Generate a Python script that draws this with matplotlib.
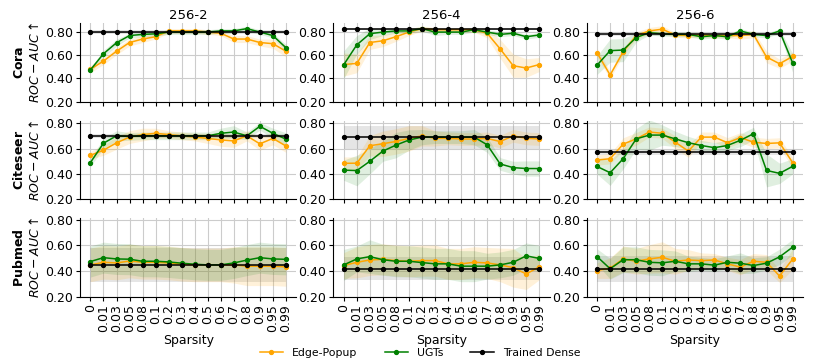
import numpy as np
import matplotlib
matplotlib.use("Agg")
import matplotlib.pyplot as plt

sparsity = ["0", "0.01", "0.03", "0.05", "0.08", "0.1", "0.2", "0.3", "0.4",
            "0.5", "0.6", "0.7", "0.8", "0.9", "0.95", "0.99"]
datasets = ["Cora", "Citeseer", "Pubmed"]
configs = ["256-2", "256-4", "256-6"]

# Edge-Popup means / stds  [dataset][config]
ep_mean = [
    [[0.48, 0.55, 0.635, 0.71, 0.74, 0.76, 0.81, 0.81, 0.81, 0.80, 0.79, 0.74, 0.74, 0.71, 0.70, 0.635],
     [0.52, 0.53, 0.71, 0.725, 0.76, 0.80, 0.83, 0.82, 0.82, 0.82, 0.82, 0.79, 0.655, 0.51, 0.49, 0.52],
     [0.62, 0.43, 0.63, 0.77, 0.81, 0.825, 0.775, 0.77, 0.775, 0.77, 0.77, 0.77, 0.78, 0.585, 0.527, 0.59]],
    [[0.547, 0.587, 0.645, 0.69, 0.71, 0.72, 0.71, 0.70, 0.69, 0.68, 0.668, 0.66, 0.70, 0.637, 0.68, 0.62],
     [0.484, 0.485, 0.622, 0.638, 0.656, 0.68, 0.70, 0.68, 0.68, 0.675, 0.675, 0.68, 0.655, 0.70, 0.68, 0.675],
     [0.51, 0.52, 0.635, 0.676, 0.73, 0.72, 0.65, 0.58, 0.69, 0.69, 0.646, 0.686, 0.65, 0.64, 0.645, 0.49]],
    [[0.45, 0.47, 0.465, 0.48, 0.47, 0.47, 0.465, 0.455, 0.45, 0.45, 0.45, 0.45, 0.44, 0.44, 0.44, 0.435],
     [0.445, 0.47, 0.488, 0.493, 0.483, 0.478, 0.483, 0.483, 0.458, 0.458, 0.47, 0.465, 0.45, 0.428, 0.38, 0.435],
     [0.406, 0.425, 0.496, 0.478, 0.496, 0.509, 0.478, 0.488, 0.483, 0.488, 0.458, 0.433, 0.478, 0.47, 0.364, 0.494]],
]
ep_std = [
    [[0.03, 0.03, 0.03, 0.03, 0.03, 0.02, 0.02, 0.02, 0.02, 0.02, 0.02, 0.03, 0.03, 0.03, 0.04, 0.05],
     [0.10, 0.08, 0.06, 0.05, 0.04, 0.03, 0.02, 0.02, 0.02, 0.02, 0.02, 0.04, 0.08, 0.10, 0.08, 0.06],
     [0.04, 0.03, 0.03, 0.03, 0.03, 0.03, 0.02, 0.02, 0.02, 0.02, 0.02, 0.03, 0.03, 0.05, 0.04, 0.04]],
    [[0.03, 0.04, 0.05, 0.05, 0.05, 0.04, 0.03, 0.03, 0.03, 0.04, 0.05, 0.05, 0.04, 0.05, 0.05, 0.05],
     [0.05, 0.05, 0.08, 0.10, 0.10, 0.10, 0.08, 0.06, 0.05, 0.05, 0.05, 0.05, 0.05, 0.05, 0.05, 0.05],
     [0.04, 0.04, 0.05, 0.05, 0.04, 0.04, 0.05, 0.05, 0.04, 0.04, 0.04, 0.04, 0.04, 0.04, 0.04, 0.04]],
    [[0.13, 0.13, 0.13, 0.13, 0.13, 0.13, 0.13, 0.13, 0.13, 0.13, 0.13, 0.14, 0.15, 0.15, 0.15, 0.15],
     [0.10, 0.12, 0.12, 0.12, 0.12, 0.12, 0.12, 0.12, 0.12, 0.12, 0.12, 0.12, 0.13, 0.15, 0.12, 0.10],
     [0.06, 0.08, 0.10, 0.10, 0.11, 0.12, 0.10, 0.08, 0.06, 0.05, 0.05, 0.06, 0.06, 0.06, 0.05, 0.08]],
]

# UGTs
ugt_mean = [
    [[0.474, 0.613, 0.708, 0.77, 0.78, 0.785, 0.80, 0.80, 0.80, 0.80, 0.81, 0.81, 0.83, 0.80, 0.77, 0.665],
     [0.519, 0.69, 0.786, 0.80, 0.81, 0.81, 0.83, 0.80, 0.80, 0.80, 0.82, 0.80, 0.78, 0.79, 0.76, 0.775],
     [0.515, 0.64, 0.645, 0.753, 0.795, 0.785, 0.78, 0.78, 0.76, 0.77, 0.76, 0.81, 0.78, 0.77, 0.81, 0.535]],
    [[0.49, 0.642, 0.70, 0.695, 0.70, 0.70, 0.70, 0.70, 0.70, 0.70, 0.72, 0.73, 0.70, 0.775, 0.72, 0.674],
     [0.43, 0.427, 0.50, 0.58, 0.627, 0.667, 0.69, 0.69, 0.69, 0.69, 0.69, 0.63, 0.479, 0.45, 0.443, 0.443],
     [0.459, 0.41, 0.52, 0.676, 0.706, 0.706, 0.676, 0.646, 0.624, 0.607, 0.624, 0.665, 0.717, 0.428, 0.405, 0.46]],
    [[0.476, 0.506, 0.496, 0.494, 0.478, 0.478, 0.473, 0.463, 0.455, 0.45, 0.45, 0.465, 0.487, 0.506, 0.496, 0.493],
     [0.45, 0.496, 0.514, 0.49, 0.478, 0.478, 0.468, 0.458, 0.458, 0.44, 0.44, 0.44, 0.45, 0.47, 0.52, 0.50],
     [0.514, 0.42, 0.49, 0.49, 0.47, 0.466, 0.478, 0.458, 0.458, 0.448, 0.47, 0.463, 0.445, 0.463, 0.512, 0.587]],
]
ugt_std = [
    [[0.02, 0.03, 0.03, 0.02, 0.02, 0.02, 0.02, 0.02, 0.02, 0.02, 0.02, 0.02, 0.02, 0.02, 0.02, 0.03],
     [0.12, 0.08, 0.05, 0.03, 0.02, 0.02, 0.02, 0.03, 0.02, 0.02, 0.02, 0.02, 0.02, 0.02, 0.02, 0.02],
     [0.08, 0.10, 0.10, 0.04, 0.02, 0.02, 0.02, 0.02, 0.02, 0.02, 0.02, 0.02, 0.02, 0.02, 0.02, 0.08]],
    [[0.03, 0.04, 0.04, 0.03, 0.03, 0.03, 0.03, 0.03, 0.03, 0.03, 0.04, 0.05, 0.03, 0.03, 0.04, 0.05],
     [0.08, 0.12, 0.10, 0.08, 0.10, 0.08, 0.06, 0.05, 0.05, 0.05, 0.06, 0.06, 0.05, 0.05, 0.06, 0.06],
     [0.06, 0.10, 0.08, 0.08, 0.12, 0.08, 0.06, 0.05, 0.04, 0.04, 0.04, 0.05, 0.05, 0.13, 0.08, 0.06]],
    [[0.12, 0.12, 0.12, 0.12, 0.12, 0.12, 0.12, 0.12, 0.12, 0.12, 0.12, 0.12, 0.12, 0.12, 0.12, 0.12],
     [0.12, 0.10, 0.13, 0.12, 0.12, 0.12, 0.12, 0.12, 0.12, 0.12, 0.12, 0.10, 0.10, 0.10, 0.10, 0.10],
     [0.06, 0.08, 0.10, 0.10, 0.10, 0.10, 0.08, 0.06, 0.05, 0.05, 0.05, 0.08, 0.06, 0.05, 0.06, 0.06]],
]

# Trained Dense (constant over sparsity)
dense_mean = [[0.80, 0.825, 0.78], [0.70, 0.69, 0.57], [0.45, 0.42, 0.415]]
dense_std = [[0.02, 0.01, 0.015], [0.015, 0.09, 0.02], [0.13, 0.09, 0.10]]

ylims = [(0.2, 0.88), (0.2, 0.82), (0.2, 0.81)]

fs = 9
c_ep, c_ugt, c_dense = "orange", "green", "black"

fig, axes = plt.subplots(3, 3, figsize=(8.14, 3.62), dpi=100)
plt.subplots_adjust(left=0.0983, right=0.9865, top=0.937, bottom=0.179,
                    wspace=0.171, hspace=0.24)

x = np.arange(len(sparsity))
for r in range(3):
    for c in range(3):
        ax = axes[r][c]
        em, es = np.array(ep_mean[r][c]), np.array(ep_std[r][c])
        um, us = np.array(ugt_mean[r][c]), np.array(ugt_std[r][c])
        dm = np.full(len(x), dense_mean[r][c])
        ds = dense_std[r][c]

        ax.fill_between(x, dm - ds, dm + ds, color="gray", alpha=0.2, lw=0)
        ax.fill_between(x, em - es, em + es, color=c_ep, alpha=0.15, lw=0)
        ax.fill_between(x, um - us, um + us, color=c_ugt, alpha=0.12, lw=0)
        ax.plot(x, em, color=c_ep, marker="o", ms=2.8, lw=1.1, label="Edge-Popup")
        ax.plot(x, um, color=c_ugt, marker="o", ms=2.8, lw=1.1, label="UGTs")
        ax.plot(x, dm, color=c_dense, marker="o", ms=2.8, lw=1.1, label="Trained Dense")

        ax.set_xlim(-0.8, 15.8)
        ax.set_ylim(*ylims[r])
        ax.set_yticks([0.2, 0.4, 0.6, 0.8])
        ax.set_yticklabels(["0.20", "0.40", "0.60", "0.80"], fontsize=fs)
        ax.set_xticks(x)
        if r == 2:
            ax.set_xticklabels(sparsity, rotation=90, fontsize=fs)
            ax.set_xlabel("Sparsity", fontsize=fs, labelpad=1)
        else:
            ax.set_xticklabels([])
        ax.grid(True, color="#cccccc", lw=0.8)
        ax.set_axisbelow(True)
        ax.spines["top"].set_visible(False)
        ax.spines["right"].set_visible(False)
        ax.tick_params(length=3, pad=2)
        if r == 0:
            ax.set_title(configs[c], fontsize=9.5, pad=3)
        if c == 0:
            ax.set_ylabel(r"$\bf{" + datasets[r] + "}$" + "\n" + r"$ROC-AUC\uparrow$",
                          fontsize=fs, labelpad=2)

handles, labels = axes[0][0].get_legend_handles_labels()
fig.legend(handles, labels, loc="center", bbox_to_anchor=(0.516, 0.026), ncol=3,
           frameon=False, fontsize=7.8, handlelength=2.2, columnspacing=2.5,
           borderpad=0.1)

plt.savefig("out.png", dpi=100)
plt.close()
